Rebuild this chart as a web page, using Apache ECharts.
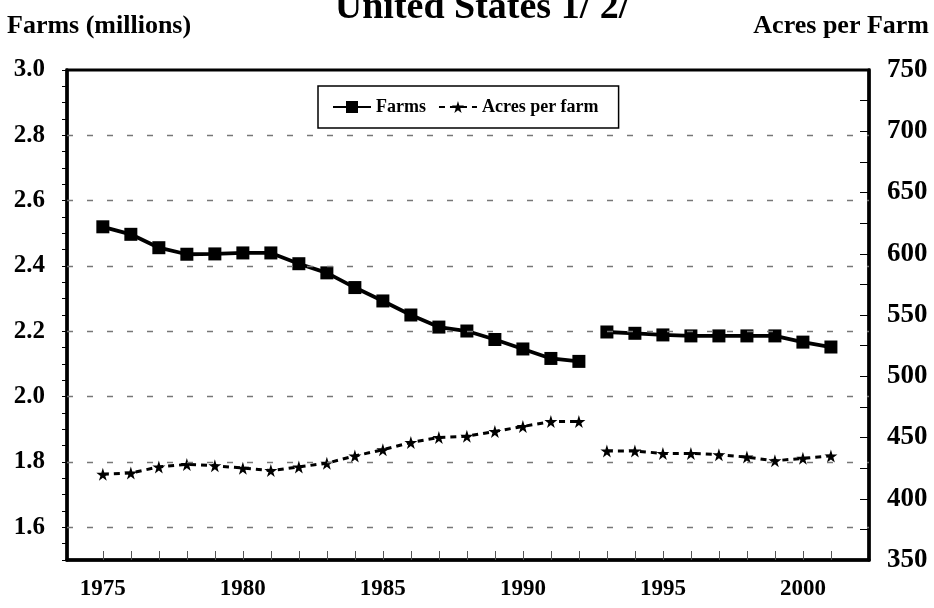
<!DOCTYPE html>
<html>
<head>
<meta charset="utf-8">
<script src="https://cdn.jsdelivr.net/npm/echarts@6/dist/echarts.min.js"></script>
<style>
  html, body { margin: 0; padding: 0; background: #fff; }
  #chart { width: 934px; height: 608px; }
</style>
</head>
<body>
<div id="chart"></div>
<script>
  // years shown on the chart
  var years = [1975, 1976, 1977, 1978, 1979, 1980, 1981, 1982, 1983, 1984, 1985, 1986, 1987, 1988,
               1989, 1990, 1991, 1992, 1993, 1994, 1995, 1996, 1997, 1998, 1999, 2000, 2001];
  // farms, millions
  var farms = [2.52, 2.497, 2.456, 2.436, 2.437, 2.44, 2.44, 2.407, 2.379, 2.334, 2.293, 2.25, 2.213, 2.201,
               2.175, 2.146, 2.117, 2.108, 2.198, 2.194, 2.189, 2.186, 2.186, 2.186, 2.186, 2.167, 2.152];
  // acres per farm
  var acres = [420, 421, 426, 428, 427, 425, 423, 426, 429, 435, 440, 446, 450, 451,
               455, 459, 463, 463, 439, 439, 437, 437, 436, 434, 431, 433, 435];
  // series break (new census basis)
  var breakYear = 1993;
  var yearLabels = [1975, 1980, 1985, 1990, 1995, 2000];
  var leftGrid = [1.6, 1.8, 2.0, 2.2, 2.4, 2.6, 2.8];

  var star = 'path://M50,0 L61,35 L98,35 L68,57 L79,91 L50,70 L21,91 L32,57 L2,35 L39,35 Z';
  var serif = '"Liberation Serif", "DejaVu Serif", serif';

  function pairs(vals, from, to) {
    var out = [];
    for (var i = 0; i < years.length; i++) {
      if (years[i] >= from && years[i] < to) out.push([years[i], vals[i]]);
    }
    return out;
  }

  function headText(text, x, y, size, align) {
    return {
      type: 'text', x: x, y: y, silent: true,
      style: { text: text, fill: '#000', align: align, verticalAlign: 'middle',
               font: 'bold ' + size + 'px ' + serif }
    };
  }

  var farmStyle = {
    name: 'Farms',
    type: 'line',
    yAxisIndex: 0,
    symbol: 'rect',
    symbolSize: 13,
    itemStyle: { color: '#000' },
    lineStyle: { color: '#000', width: 3.8 },
    z: 3
  };
  var acreStyle = {
    name: 'Acres per farm',
    type: 'line',
    yAxisIndex: 1,
    symbol: star,
    symbolSize: 13,
    itemStyle: { color: '#000' },
    lineStyle: { color: '#000', width: 3, type: [6, 5] },
    z: 3
  };

  var chart = echarts.init(document.getElementById('chart'));
  chart.setOption({
    animation: false,
    graphic: [
      headText('United States 1/ 2/', 482, 8, 38, 'center'),
      headText('Farms (millions)', 7, 26, 26, 'left'),
      headText('Acres per Farm', 929, 26, 26, 'right')
    ],
    legend: {
      data: ['Farms', 'Acres per farm'],
      left: 318, top: 86,
      padding: [12, 20, 12, 14],
      itemGap: 12,
      itemWidth: 38,
      itemHeight: 15,
      borderColor: '#000',
      borderWidth: 1.5,
      textStyle: { fontFamily: serif, fontSize: 18, fontWeight: 'bold', color: '#000' }
    },
    grid: { left: 67, right: 65, top: 70, bottom: 48, show: true, borderColor: '#000', borderWidth: 3 },
    xAxis: {
      type: 'value',
      min: 1973.72,
      max: 2002.36,
      axisLine: { show: true, lineStyle: { color: '#000', width: 3.5 } },
      axisTick: { show: true, inside: true, length: 9, customValues: years,
                  lineStyle: { color: '#555', width: 1 } },
      axisLabel: { customValues: yearLabels, margin: 18, fontFamily: serif, fontSize: 23,
                   fontWeight: 'bold', color: '#000',
                   formatter: function (v) { return String(Math.round(v)); } },
      splitLine: { show: false }
    },
    yAxis: [
      {
        type: 'value',
        min: 1.5, max: 3.0, interval: 0.05,
        axisLine: { show: true, lineStyle: { color: '#000', width: 3.5 } },
        axisTick: { show: true, length: 5, lineStyle: { color: '#000', width: 1 } },
        axisLabel: {
          margin: 22, fontFamily: serif, fontSize: 25, fontWeight: 'bold', color: '#000',
          formatter: function (v) { return Math.round(v * 100) % 20 === 0 ? v.toFixed(1) : ''; }
        },
        splitLine: { show: false }
      },
      {
        type: 'value',
        min: 350, max: 750, interval: 25,
        position: 'right',
        axisLine: { show: true, lineStyle: { color: '#000', width: 3.5 } },
        axisTick: { show: true, inside: true, length: 9, lineStyle: { color: '#000', width: 1 } },
        axisLabel: {
          margin: 18, fontFamily: serif, fontSize: 27, fontWeight: 'bold', color: '#000',
          formatter: function (v) { return v % 50 === 0 ? String(v) : ''; }
        },
        splitLine: { show: false }
      }
    ],
    series: [
      Object.assign({}, farmStyle, {
        data: pairs(farms, 0, breakYear),
        markLine: {
          silent: true, symbol: 'none', label: { show: false },
          lineStyle: { color: '#777', type: [6, 14], width: 1.3 },
          data: leftGrid.map(function (v) { return { yAxis: v }; })
        },
        z: 2
      }),
      Object.assign({}, farmStyle, { data: pairs(farms, breakYear, 9999) }),
      Object.assign({}, acreStyle, { data: pairs(acres, 0, breakYear) }),
      Object.assign({}, acreStyle, { data: pairs(acres, breakYear, 9999) })
    ]
  });
</script>
</body>
</html>
